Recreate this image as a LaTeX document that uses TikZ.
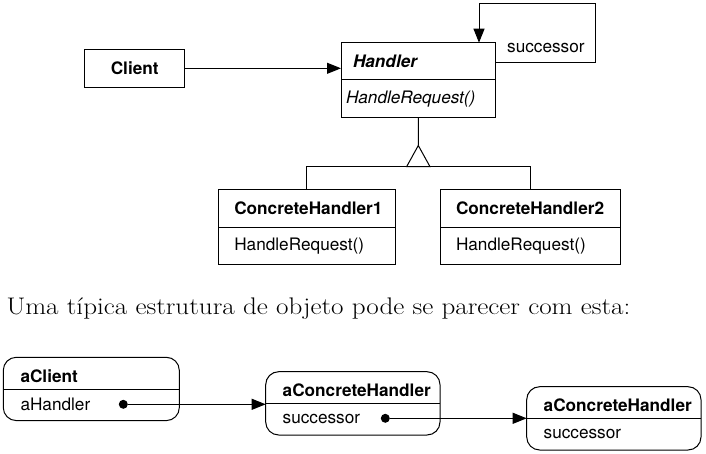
\documentclass[tikz,border=0pt]{standalone}
\usepackage{fontspec}
\setsansfont{TeX Gyre Heros}
\usepackage{graphicx}
\usepackage{tikz}
\usetikzlibrary{arrows.meta, positioning, calc}

\begin{document}
\begin{tikzpicture}[x=1pt, y=-1pt, line width=1pt,
    every node/.style={font=\sffamily\fontsize{17.2}{20}\selectfont},
    classbox/.style={draw, outer sep=0pt, inner ysep=0pt, align=left, anchor=north west},
    objbox/.style={draw, rounded corners=13pt, outer sep=0pt, anchor=north west, minimum height=63.3pt},
    txt/.style={inner sep=0pt, anchor=west},
    ref/.style={circle, fill=black, inner sep=0pt, minimum size=9pt},
    >={Triangle[length=14pt, width=11pt]}]
    \useasboundingbox (0,0) rectangle (706,454);

    % Class structure
    \node[classbox, anchor=center, minimum width=100pt, minimum height=38pt] (client) at (134.7,68.3) {\textbf{Client}};
    \node[classbox, text width=130.7pt, inner xsep=12pt, minimum height=37.3pt] (handler) at (341,42.7) {\textbf{\textit{Handler}}};
    \node[classbox, text width=144.7pt, inner xsep=5pt, minimum height=37.7pt, below=0pt of handler] (handlerop) {\textit{HandleRequest()}};

    \node[classbox, text width=144.7pt, inner xsep=16pt, minimum height=38pt] (ch1) at (218.3,189.3) {\textbf{ConcreteHandler1}};
    \node[classbox, text width=144.7pt, inner xsep=16pt, minimum height=37pt, below=0pt of ch1] (ch1op) {HandleRequest()};
    \node[classbox, text width=148pt, inner xsep=16pt, minimum height=38pt] (ch2) at (440,189.3) {\textbf{ConcreteHandler2}};
    \node[classbox, text width=148pt, inner xsep=16pt, minimum height=37pt, below=0pt of ch2] (ch2op) {HandleRequest()};

    % Client knows the handler
    \draw[->] (client.east) -- (client.east -| handler.west);

    % Successor loop
    \coordinate (loopa) at (595.7,62.7);
    \coordinate (loopb) at (479,4);
    \draw[->] (handler.east |- loopa) -- (loopa) -- (loopa |- loopb) -- (loopb) -- (loopb |- handler.north);
    \node[txt] (succ) at (506.7,48.3) {successor};

    % Generalization
    \coordinate (gen) at (418.3,166.7);
    \draw (handlerop.south) -- ($(gen)+(0,-21.2)$);
    \draw (ch1.north) -- (ch1.north |- gen) -- (ch2.north |- gen) -- (ch2.north);
    \draw[fill=white] ($(gen)+(0,-21.2)$) -- ($(gen)+(-11.7,0)$) -- ($(gen)+(11.7,0)$) -- cycle;

    % Caption
    \node[anchor=base west, inner sep=0pt, font=\fontsize{24}{28}\selectfont] (caption) at (6,314.5) {\scalebox{1.13}[1]{Uma típica estrutura de objeto pode se parecer com esta:}};

    % Object structure
    \node[objbox, minimum width=176pt] (aclient) at (3.3,357.3) {};
    \draw ($(aclient.north west)+(0,32)$) -- ($(aclient.north east)+(0,32)$);
    \node[txt] (aclientname) at ($(aclient.north west)+(16.7,18.7)$) {\textbf{aClient}};
    \node[txt] (aclientfield) at ($(aclient.north west)+(16.7,47)$) {aHandler};
    \node[ref] (dot0) at ($(aclient.north west)+(120,47)$) {};

    \foreach \n/\x/\y in {1/265.7/371.7, 2/526.7/386.7} {
        \node[objbox, minimum width=174.3pt] (ahandler\n) at (\x,\y) {};
        \draw ($(ahandler\n.north west)+(0,31.5)$) -- ($(ahandler\n.north east)+(0,31.5)$);
        \node[txt] (ahandlername\n) at ($(ahandler\n.north west)+(16.5,19)$) {\textbf{aConcreteHandler}};
        \node[txt] (ahandlerfield\n) at ($(ahandler\n.north west)+(16.5,47.3)$) {successor};
    }
    \node[ref] (dot1) at ($(ahandler1.north west)+(119.6,46.6)$) {};

    % References between objects
    \draw[->] (dot0) -- (dot0 -| ahandler1.west);
    \draw[->] (dot1) -- (dot1 -| ahandler2.west);
\end{tikzpicture}
\end{document}
